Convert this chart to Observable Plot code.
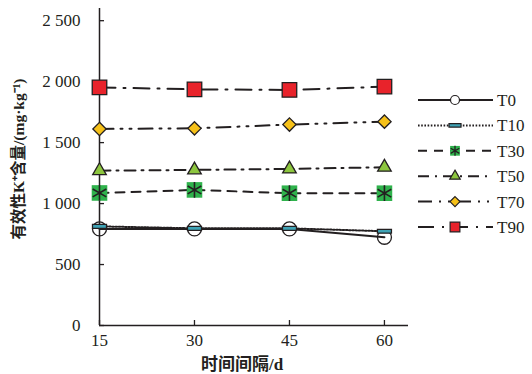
<!DOCTYPE html>
<html><head><meta charset="utf-8">
<script src="https://cdn.jsdelivr.net/npm/d3@7"></script>
<script src="https://cdn.jsdelivr.net/npm/@observablehq/plot@0.6"></script>
<style>
html,body{margin:0;padding:0;background:#fff;}
#wrap{position:relative;width:532px;height:374px;overflow:hidden;}
#wrap svg.legend{position:absolute;left:0;top:0;pointer-events:none;}
</style></head><body><div id="wrap"></div>
<script>
// ---- data ----
const days = [15, 30, 45, 60];
const seriesNames = ["T0", "T10", "T30", "T50", "T70", "T90"];
const T0  = [792, 792, 792, 724];
const T10 = [813, 797, 797, 773];
const T30 = [1087, 1112, 1085, 1085];
const T50 = [1270, 1276, 1284, 1298];
const T70 = [1612, 1617, 1648, 1672];
const T90 = [1953, 1937, 1932, 1959];
const yTicks = [0, 500, 1000, 1500, 2000, 2500];
const yTickLabels = ["0", "500", "1 000", "1 500", "2 000", "2 500"];
const xTickLabels = ["15", "30", "45", "60"];
const yLabel = "有效性K⁺含量/(mg·kg⁻¹)";
const xLabel = "时间间隔/d";

const seriesValues = {T0, T10, T30, T50, T70, T90};
const rows = [];
for (const s of seriesNames) seriesValues[s].forEach((v, i) => rows.push({series: s, day: days[i], value: v}));

// ---- styles ----
const ink = "#231f20";
const serif = "'Liberation Serif', 'Times New Roman', 'DejaVu Serif', serif";
const mixed = "'Liberation Serif', 'Times New Roman', 'Noto Sans CJK SC', serif";
const bar = {draw(ctx, size) { const r = Math.sqrt(size / Math.PI); ctx.rect(-r, -r * 0.28, 2 * r, r * 0.56); }};
const styles = {
  T0:  {dash: null,               sym: "circle",    fill: "none",    stroke: ink, r: 7,   lr: 4.5},
  T10: {dash: "1.6 1.6",          sym: bar,         fill: "#3fa3b5", stroke: ink, r: 7,   lr: 6},
  T30: {dash: "9 7",              sym: "square",    fill: "#2fb24c", stroke: "none", r: 8.8, lr: 5.5, extra: "asterisk"},
  T50: {dash: "11 6 2 6",         sym: "triangle2", fill: "#8dc63f", stroke: ink, r: 6.5, lr: 5},
  T70: {dash: "14 7 2 7 2 7",     sym: "diamond2",  fill: "#f6c119", stroke: ink, r: 6,   lr: 4.5},
  T90: {dash: "16 8 2 8",         sym: "square",    fill: "#e8232b", stroke: ink, r: 8.2, lr: 5.5}
};
const d3sym = {circle: d3.symbolCircle, square: d3.symbolSquare, triangle2: d3.symbolTriangle2, diamond2: d3.symbolDiamond2, asterisk: d3.symbolAsterisk};

const lineMarks = seriesNames.map(s => Plot.line(rows.filter(d => d.series === s), {
  x: "day", y: "value", stroke: ink, strokeWidth: 2, strokeDasharray: styles[s].dash
}));
const dotMarks = [];
for (const s of seriesNames) {
  const st = styles[s];
  const data = rows.filter(d => d.series === s);
  dotMarks.push(Plot.dot(data, {x: "day", y: "value", symbol: st.sym, r: st.r, fill: st.fill, stroke: st.stroke, strokeWidth: 1.3}));
  if (st.extra) dotMarks.push(Plot.dot(data, {x: "day", y: "value", symbol: st.extra, r: st.r * 0.85, fill: "none", stroke: ink, strokeWidth: 1.6}));
}

const chart = Plot.plot({
  width: 532, height: 374,
  marginLeft: 99, marginRight: 124, marginTop: 8, marginBottom: 49,
  x: {domain: [15, 63.8]},
  y: {domain: [0, 2600]},
  style: {fontFamily: serif, fontSize: "17px", color: ink, background: "#fff"},
  marks: [
    Plot.axisY(yTicks, {tickSize: 0, tickPadding: 19, tickFormat: d => yTickLabels[yTicks.indexOf(d)], label: null, fontSize: 17, fontFamily: serif}),
    Plot.axisY(yTicks, {tickSize: -5, tickFormat: () => "", label: null, strokeWidth: 1.3}),
    Plot.axisX(days, {tickSize: 0, tickPadding: 8, tickFormat: d => xTickLabels[days.indexOf(d)], label: null, fontSize: 17, fontFamily: serif}),
    Plot.axisX(days, {tickSize: -5, tickFormat: () => "", label: null, strokeWidth: 1.3}),
    Plot.ruleX([15], {stroke: ink, strokeWidth: 1.5}),
    Plot.ruleY([0], {stroke: ink, strokeWidth: 1.5}),
    ...lineMarks,
    ...dotMarks,
    Plot.text([yLabel], {text: d => d, frameAnchor: "left", textAnchor: "middle", lineAnchor: "middle", rotate: -90, dx: -80, dy: -8, fontFamily: mixed, fontSize: 15.5, fontWeight: "bold", fill: ink}),
    Plot.text([xLabel], {text: d => d, frameAnchor: "bottom", textAnchor: "middle", lineAnchor: "middle", dx: -12, dy: 39, fontFamily: mixed, fontSize: 17, fontWeight: "bold", fill: ink})
  ]
});
const wrap = document.getElementById("wrap");
wrap.appendChild(chart);

// ---- legend ----
const lg = d3.select(wrap).append("svg").attr("class", "legend").attr("width", 532).attr("height", 374);
const legX0 = 418, legX1 = 493, legMid = 455, legText = 497, legY0 = 100, legDy = 25.4;
seriesNames.forEach((s, i) => {
  const st = styles[s];
  const g = lg.append("g").attr("transform", `translate(0,${legY0 + i * legDy})`);
  g.append("line").attr("x1", legX0).attr("x2", legX1).attr("stroke", ink).attr("stroke-width", 2)
    .attr("stroke-dasharray", st.dash);
  const symType = typeof st.sym === "string" ? d3sym[st.sym] : st.sym;
  g.append("path").attr("transform", `translate(${legMid},0)`)
    .attr("d", d3.symbol(symType, Math.PI * st.lr * st.lr)())
    .attr("fill", st.fill === "none" ? "#fff" : st.fill).attr("stroke", st.stroke).attr("stroke-width", 1.2);
  if (st.extra) g.append("path").attr("transform", `translate(${legMid},0)`)
    .attr("d", d3.symbol(d3sym[st.extra], Math.PI * st.lr * st.lr * 0.75)())
    .attr("fill", "none").attr("stroke", ink).attr("stroke-width", 1.3);
  g.append("text").attr("x", legText).attr("dy", "0.35em").attr("fill", ink)
    .attr("font-family", serif).attr("font-size", 17).text(s);
});
</script></body></html>
